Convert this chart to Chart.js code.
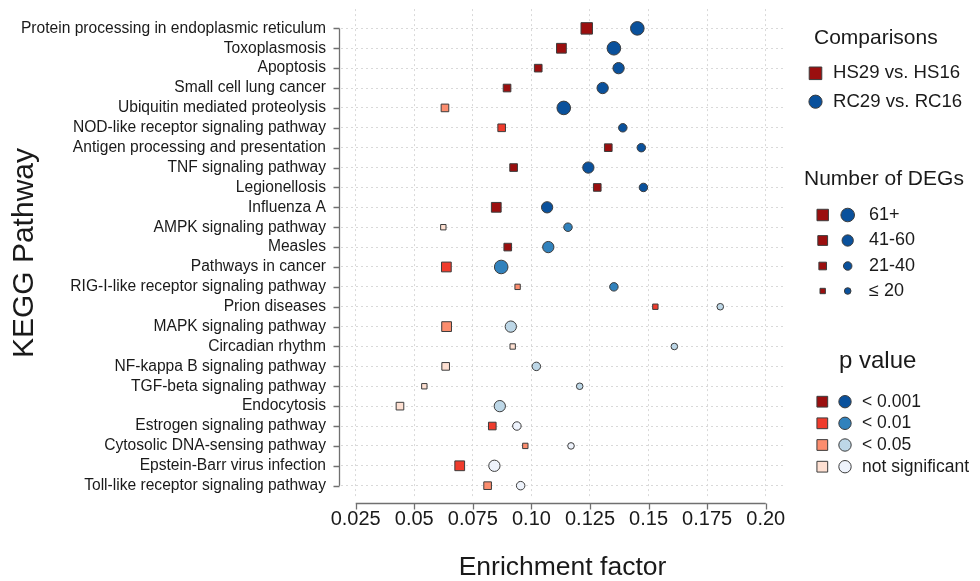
<!DOCTYPE html>
<html>
<head>
<meta charset="utf-8">
<script src="https://cdn.jsdelivr.net/npm/chart.js@4.4.1/dist/chart.umd.min.js"></script>
<style>
  html, body { margin: 0; padding: 0; background: #fff; }
  #wrap { width: 980px; height: 581px; }
</style>
</head>
<body>
<div id="wrap"><canvas id="kegg" width="980" height="581"></canvas></div>
<script>
'use strict';
// KEGG enrichment dot plot — HS29 vs HS16 (squares) and RC29 vs RC16 (circles).
const PATHWAYS = [
  'Protein processing in endoplasmic reticulum', 'Toxoplasmosis', 'Apoptosis', 'Small cell lung cancer',
  'Ubiquitin mediated proteolysis', 'NOD-like receptor signaling pathway', 'Antigen processing and presentation',
  'TNF signaling pathway', 'Legionellosis', 'Influenza A', 'AMPK signaling pathway', 'Measles',
  'Pathways in cancer', 'RIG-I-like receptor signaling pathway', 'Prion diseases', 'MAPK signaling pathway',
  'Circadian rhythm', 'NF-kappa B signaling pathway', 'TGF-beta signaling pathway', 'Endocytosis',
  'Estrogen signaling pathway', 'Cytosolic DNA-sensing pathway', 'Epstein-Barr virus infection',
  'Toll-like receptor signaling pathway',
];
const HS_FACTOR = [0.1236, 0.1128, 0.1029, 0.0896, 0.0631, 0.0873, 0.1328, 0.0924, 0.1281, 0.0850, 0.0624, 0.0899,
  0.0637, 0.0941, 0.1529, 0.0638, 0.0920, 0.0634, 0.0543, 0.0439, 0.0833, 0.0974, 0.0694, 0.0813];
const RC_FACTOR = [0.1452, 0.1352, 0.1372, 0.1304, 0.1138, 0.1390, 0.1469, 0.1243, 0.1478, 0.1067, 0.1156, 0.1072,
  0.0871, 0.1352, 0.1806, 0.0912, 0.1610, 0.1021, 0.1206, 0.0865, 0.0938, 0.1169, 0.0842, 0.0954];
const HS_DEG = ['61+', '41-60', '21-40', '21-40', '21-40', '21-40', '21-40', '21-40', '21-40', '41-60', '≤20', '21-40',
  '41-60', '≤20', '≤20', '41-60', '≤20', '21-40', '≤20', '21-40', '21-40', '≤20', '41-60', '21-40'];
const RC_DEG = ['61+', '61+', '41-60', '41-60', '61+', '21-40', '21-40', '41-60', '21-40', '41-60', '21-40', '41-60',
  '61+', '21-40', '≤20', '41-60', '≤20', '21-40', '≤20', '41-60', '21-40', '≤20', '41-60', '21-40'];
const HS_P = ['<0.001', '<0.001', '<0.001', '<0.001', '<0.05', '<0.01', '<0.001', '<0.001', '<0.001', '<0.001', 'ns', '<0.001',
  '<0.01', '<0.05', '<0.01', '<0.05', 'ns', 'ns', 'ns', 'ns', '<0.01', '<0.05', '<0.01', '<0.05'];
const RC_P = ['<0.001', '<0.001', '<0.001', '<0.001', '<0.001', '<0.001', '<0.001', '<0.001', '<0.001', '<0.001', '<0.01', '<0.01',
  '<0.01', '<0.01', '<0.05', '<0.05', '<0.05', '<0.05', '<0.05', '<0.05', 'ns', 'ns', 'ns', 'ns'];
const X_TICKS = [0.025, 0.05, 0.075, 0.10, 0.125, 0.15, 0.175, 0.20];
const X_TICK_LABELS = ['0.025', '0.05', '0.075', '0.10', '0.125', '0.15', '0.175', '0.20'];
const DEG_CLASSES = ['61+', '41-60', '21-40', '≤20'];
const DEG_LABELS = ['61+', '41-60', '21-40', '≤ 20'];
const P_CLASSES = ['<0.001', '<0.01', '<0.05', 'ns'];
const P_LABELS = ['< 0.001', '< 0.01', '< 0.05', 'not significant'];
const SERIES = ['HS29 vs. HS16', 'RC29 vs. RC16'];

// Styles
const REDS = ['#9B0F0F', '#EF3B2C', '#FC8D6E', '#FEE0D2'];
const BLUES = ['#0A519C', '#3182BD', '#BDD7E7', '#EEF3FC'];
const SQ_R = [8.1, 6.9, 5.4, 3.8];
const CI_R = [6.8, 5.65, 4.25, 3.3];
const EDGE = '#3c3c3c';
const FONT = "'Liberation Sans', Arial, Helvetica, sans-serif";
const INK = '#1a1a1a';

const pts = arr => arr.map((v, i) => ({ x: v, y: i }));

function marker(ctx, style, x, y, r, fill) {
  ctx.save();
  ctx.beginPath();
  if (style === 'rect') { const s = Math.SQRT1_2 * r; ctx.rect(x - s, y - s, 2 * s, 2 * s); }
  else ctx.arc(x, y, r, 0, Math.PI * 2);
  ctx.fillStyle = fill; ctx.fill();
  ctx.lineWidth = 1; ctx.strokeStyle = EDGE; ctx.stroke();
  ctx.restore();
}

function text(ctx, str, x, y, size) {
  ctx.save();
  ctx.font = `${size}px ${FONT}`; ctx.fillStyle = INK; ctx.textBaseline = 'middle'; ctx.textAlign = 'left';
  ctx.fillText(str, x, y);
  ctx.restore();
}

// Axis lines limited to the tick range, plus the three legend blocks on the right.
const decor = {
  id: 'decor',
  afterDraw(chart) {
    const { ctx, scales: { x, y } } = chart;
    ctx.save();
    ctx.strokeStyle = '#707070'; ctx.lineWidth = 1.3;
    const ay = 503.5, ax = 339.5;
    ctx.beginPath();
    ctx.moveTo(x.getPixelForValue(X_TICKS[0]), ay); ctx.lineTo(x.getPixelForValue(X_TICKS[X_TICKS.length - 1]), ay);
    X_TICKS.forEach(v => { const px = Math.round(x.getPixelForValue(v)) + 0.5; ctx.moveTo(px, ay); ctx.lineTo(px, ay + 6); });
    ctx.moveTo(ax, y.getPixelForValue(0)); ctx.lineTo(ax, y.getPixelForValue(PATHWAYS.length - 1));
    PATHWAYS.forEach((_, i) => { const py = Math.round(y.getPixelForValue(i)) + 0.5; ctx.moveTo(ax, py); ctx.lineTo(ax - 6, py); });
    ctx.stroke();
    ctx.restore();

    text(ctx, 'Comparisons', 814, 38, 21);
    marker(ctx, 'rect', 815.5, 73.3, 8.9, REDS[0]);
    marker(ctx, 'circle', 815.5, 101.7, 6.6, BLUES[0]);
    text(ctx, SERIES[0], 833, 73.3, 18.6);
    text(ctx, SERIES[1], 833, 101.7, 18.6);

    text(ctx, 'Number of DEGs', 804, 179.3, 21);
    [215, 240.5, 266, 291].forEach((py, i) => {
      marker(ctx, 'rect', 822.7, py, SQ_R[i], REDS[0]);
      marker(ctx, 'circle', 847.7, py, CI_R[i], BLUES[0]);
      text(ctx, DEG_LABELS[i], 869, py, 18);
    });

    text(ctx, 'p value', 839, 361, 24);
    [401.7, 423.3, 445, 466.7].forEach((py, i) => {
      marker(ctx, 'rect', 822.3, py, 7.6, REDS[i]);
      marker(ctx, 'circle', 845, py, 6.2, BLUES[i]);
      text(ctx, P_LABELS[i], 862, py, 17.5);
    });
  },
};

new Chart(document.getElementById('kegg').getContext('2d'), {
  type: 'scatter',
  data: {
    datasets: [
      {
        label: SERIES[0], data: pts(HS_FACTOR), pointStyle: 'rect',
        pointRadius: c => SQ_R[DEG_CLASSES.indexOf(HS_DEG[c.dataIndex])],
        backgroundColor: c => REDS[P_CLASSES.indexOf(HS_P[c.dataIndex])],
        borderColor: EDGE, borderWidth: 1,
      },
      {
        label: SERIES[1], data: pts(RC_FACTOR), pointStyle: 'circle',
        pointRadius: c => CI_R[DEG_CLASSES.indexOf(RC_DEG[c.dataIndex])],
        backgroundColor: c => BLUES[P_CLASSES.indexOf(RC_P[c.dataIndex])],
        borderColor: EDGE, borderWidth: 1,
      },
    ],
  },
  options: {
    responsive: false, animation: false, events: [],
    layout: { padding: { left: 0, right: 196, top: 8, bottom: 0 } },
    plugins: { legend: { display: false }, tooltip: { enabled: false } },
    scales: {
      x: {
        type: 'linear', min: 0.01873, max: 0.2078,
        afterBuildTicks: s => { s.ticks = X_TICKS.map(v => ({ value: v })); },
        afterFit: s => { s.height = 84; s.paddingLeft = 0; s.paddingRight = 0; },
        ticks: { callback: (v, i) => X_TICK_LABELS[i], font: { family: FONT, size: 20 }, color: INK, padding: 10, maxRotation: 0, autoSkip: false },
        grid: { color: '#d9d9d9', lineWidth: 1, drawTicks: false },
        border: { display: false, dash: [2, 3] },
        title: { display: true, text: 'Enrichment factor', font: { family: FONT, size: 26.5, lineHeight: 1 }, color: INK, padding: { top: 0, bottom: 0 } },
      },
      y: {
        type: 'linear', reverse: true, min: -0.97, max: 23.57,
        afterBuildTicks: s => { s.ticks = PATHWAYS.map((_, i) => ({ value: i })); },
        afterFit: s => { s.width = 341; s.paddingTop = 0; s.paddingBottom = 0; },
        ticks: { callback: v => PATHWAYS[v], font: { family: FONT, size: 15.6 }, color: INK, padding: 15, autoSkip: false },
        grid: { color: '#d9d9d9', lineWidth: 1, drawTicks: false },
        border: { display: false, dash: [2, 3] },
        title: { display: true, text: 'KEGG Pathway', font: { family: FONT, size: 30, lineHeight: 1 }, color: INK, padding: { top: 10, bottom: 0 } },
      },
    },
  },
  plugins: [decor],
});
</script>
</body>
</html>
